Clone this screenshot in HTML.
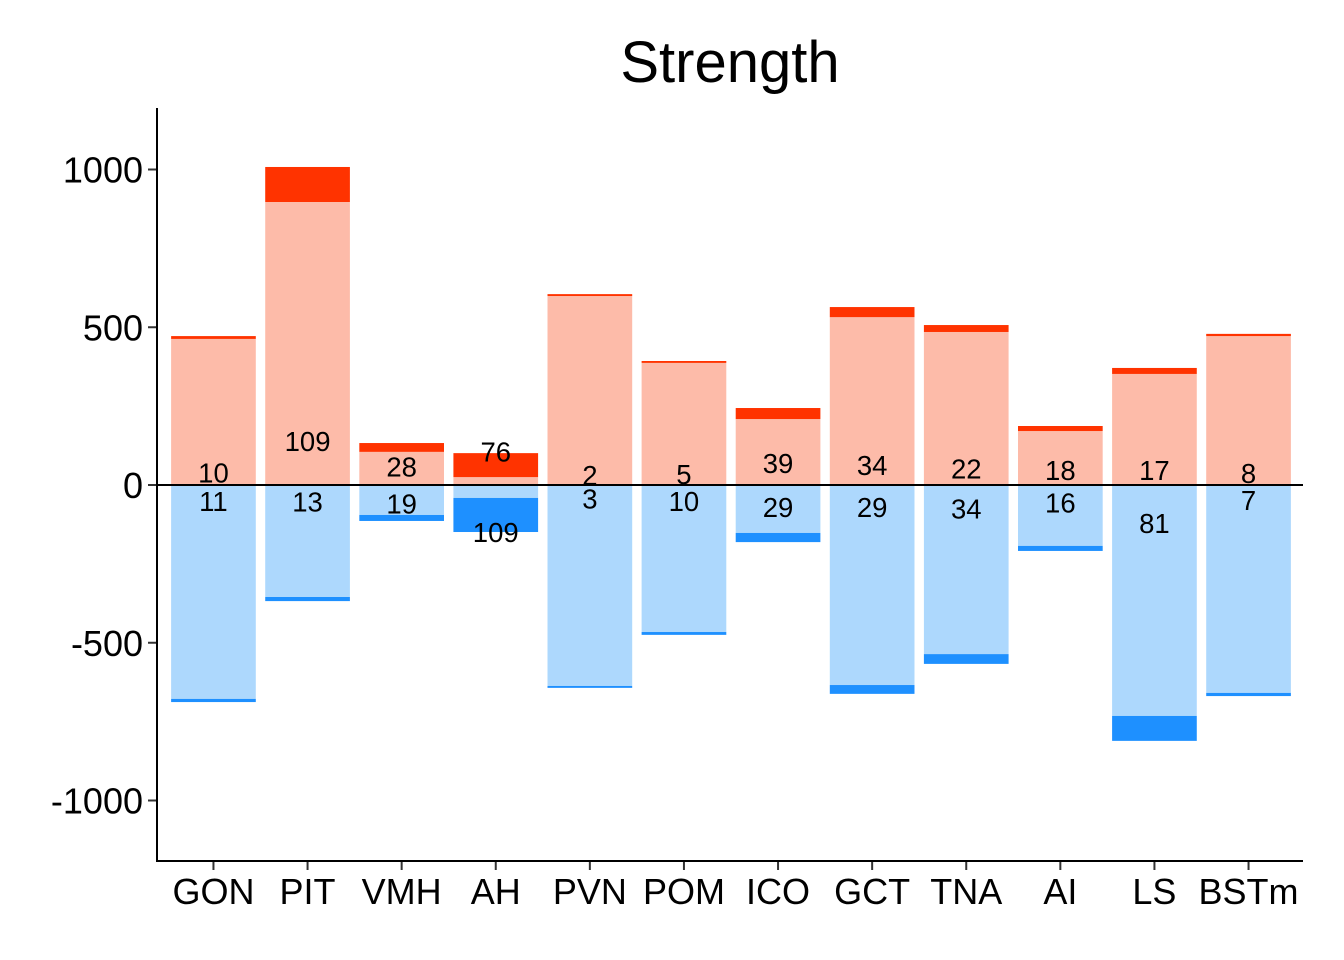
<!DOCTYPE html>
<html><head><meta charset="utf-8"><style>
body{margin:0;background:#fff;}
svg{display:block;font-family:"Liberation Sans",Arial,sans-serif;}
</style></head><body>
<svg id="chart" width="1344" height="960">
<rect width="1344" height="960" fill="#fff"/>
<text x="730" y="82" font-size="58" text-anchor="middle">Strength</text>
<g id="bars"></g><g id="labels"></g><g id="axes"></g>
</svg>
<script>
const categories=["GON","PIT","VMH","AH","PVN","POM","ICO","GCT","TNA","AI","LS","BSTm"];
const posLight=[463,897,105,25,599,387,209,532,485,171,352,472];
const posTotal=[472,1008,133,101,605,393,244,564,507,187,371,479];
const negLight=[-678,-355,-95,-41,-637,-466,-152,-634,-536,-193,-732,-659];
const negTotal=[-688,-368,-114,-149,-643,-475,-181,-662,-567,-209,-811,-669];
const posLabels=[10,109,28,76,2,5,39,34,22,18,17,8];
const negLabels=[11,13,19,109,3,10,29,29,34,16,81,7];
const yTicks=[1000,500,0,-500,-1000];

const NS="http://www.w3.org/2000/svg";
const x0=157,x1=1305,yTop=108,yBot=861;
const y=v=>485-v*0.3155;
const step=(x1-x0)/(categories.length-1+1.2);
const cx=i=>x0+(0.6+i)*step;
const bw=step*0.9;
function mk(tag,attrs,parent){const e=document.createElementNS(NS,tag);for(const k in attrs)e.setAttribute(k,attrs[k]);parent.appendChild(e);return e;}
const gb=document.getElementById('bars'),gl=document.getElementById('labels'),ga=document.getElementById('axes');
function rect(a,b,i,col,name){const t=Math.min(y(a),y(b)),h=Math.abs(y(a)-y(b));
 const r=mk('rect',{x:cx(i)-bw/2,y:t,width:bw,height:h,fill:col},gb);
 
 }
categories.forEach((c,i)=>{
 rect(0,posLight[i],i,'#FDBBA9','bar-pos-light-'+c.toLowerCase());
 rect(posLight[i],posTotal[i],i,'#FF3300','bar-pos-dark-'+c.toLowerCase());
 rect(0,negLight[i],i,'#ADD8FD','bar-neg-light-'+c.toLowerCase());
 rect(negLight[i],negTotal[i],i,'#1E90FF','bar-neg-dark-'+c.toLowerCase());
 let t=mk('text',{x:cx(i),y:y(posLabels[i]+30)+10,'font-size':27.5,'text-anchor':'middle'},gl);t.textContent=posLabels[i];
 
 
 t=mk('text',{x:cx(i),y:y(-(negLabels[i]+40))+10,'font-size':27.5,'text-anchor':'middle'},gl);t.textContent=negLabels[i];
 
 
 mk('line',{x1:cx(i),x2:cx(i),y1:yBot,y2:yBot+9,stroke:'#333','stroke-width':2},ga);
 t=mk('text',{x:cx(i),y:904,'font-size':36,'text-anchor':'middle'},ga);t.textContent=c;
 
 
});
let zl=mk('line',{x1:x0,x2:1303,y1:y(0),y2:y(0),stroke:'#000','stroke-width':2},ga);


yTicks.forEach(v=>{
 mk('line',{x1:x0-9,x2:x0,y1:y(v),y2:y(v),stroke:'#333','stroke-width':2},ga);
 const t=mk('text',{x:143,y:y(v)+13,'font-size':36,'text-anchor':'end'},ga);t.textContent=v;
 
 
});
let ax=mk('line',{x1:x0,x2:x0,y1:yTop,y2:yBot+1,stroke:'#000','stroke-width':2},ga);


ax=mk('line',{x1:x0-1,x2:1303,y1:yBot,y2:yBot,stroke:'#000','stroke-width':2},ga);


</script>
</body></html>
